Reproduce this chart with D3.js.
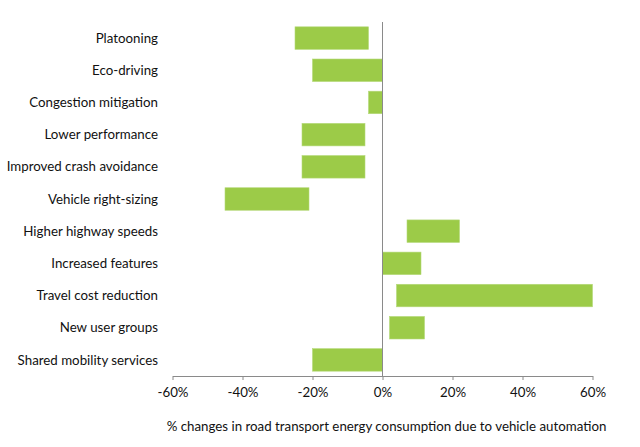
<head>
    <script src="https://d3js.org/d3.v7.min.js"></script>
    <style>
        body { margin: 0; background: #fff; }
        text { font-family: Lato, "Open Sans", sans-serif; fill: #111; }
    </style>
</head>

<body>
    <div id="chart"></div>
</body>

<script>
    // ranges of % change in energy use
    const categories = [
        "Platooning", "Eco-driving", "Congestion mitigation", "Lower performance",
        "Improved crash avoidance", "Vehicle right-sizing", "Higher highway speeds",
        "Increased features", "Travel cost reduction", "New user groups",
        "Shared mobility services"
    ];
    const lowValues = [-25, -20, -4, -23, -23, -45, 7, 0, 4, 2, -20];
    const highValues = [-4, 0, 0, -5, -5, -21, 22, 11, 60, 12, 0];
    const tickValues = [-60, -40, -20, 0, 20, 40, 60];
    const axisTitle = "% changes in road transport energy consumption due to vehicle automation";

    const width = 640, height = 447;
    const svg = d3.select("#chart").append("svg")
        .attr("width", width)
        .attr("height", height);

    const x = d3.scaleLinear().domain([-60, 60]).range([172.5, 592.5]);
    const y = d3.scaleBand().domain(categories).range([22, 376])
        .paddingInner(0.3).paddingOuter(0.15);

    // bars
    svg.selectAll("rect.bar")
        .data(categories)
        .enter()
        .append("rect")
        .attr("class", "bar")
        .attr("x", (d, i) => x(lowValues[i]))
        .attr("width", (d, i) => x(highValues[i]) - x(lowValues[i]))
        .attr("y", d => y(d))
        .attr("height", y.bandwidth())
        .style("fill", "#9ccb48")
        .style("stroke", "#b5d97a")
        .style("stroke-width", 0.6);

    // zero line
    svg.append("line")
        .attr("x1", x(0)).attr("x2", x(0))
        .attr("y1", 22).attr("y2", 376)
        .style("stroke", "#8a8a8a")
        .style("stroke-width", 1);

    // category labels
    svg.selectAll("text.cat")
        .data(categories)
        .enter()
        .append("text")
        .attr("class", "cat")
        .attr("x", 158)
        .attr("y", d => y(d) + y.bandwidth() / 2)
        .attr("dy", "0.35em")
        .attr("text-anchor", "end")
        .style("font-size", "13.3px")
        .text(d => d);

    // x axis
    const axis = svg.append("g")
        .attr("transform", "translate(0,376)")
        .call(d3.axisBottom(x)
            .tickValues(tickValues)
            .tickSize(4)
            .tickSizeOuter(0)
            .tickPadding(8)
            .tickFormat(d => d + "%"));
    axis.select(".domain").style("stroke", "#8a8a8a");
    axis.selectAll(".tick line").style("stroke", "#8a8a8a");
    axis.selectAll(".tick text")
        .style("font-size", "13.3px")
        .style("font-family", "Lato, 'Open Sans', sans-serif")
        .style("fill", "#111");

    svg.append("text")
        .attr("x", (167 + 606) / 2)
        .attr("y", 431)
        .attr("text-anchor", "middle")
        .style("font-size", "13.3px")
        .text(axisTitle);
</script>
